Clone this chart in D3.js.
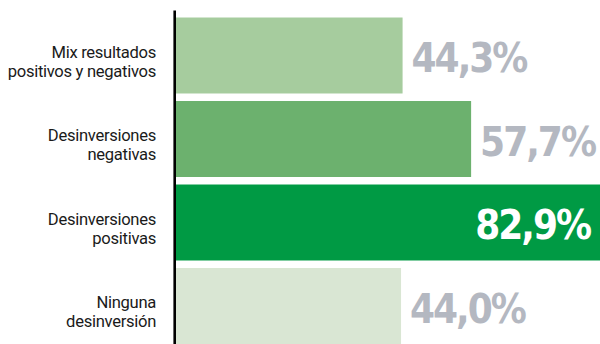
<!DOCTYPE html>
<html>
<head>
<meta charset="utf-8">
<script src="https://cdn.jsdelivr.net/npm/d3@7"></script>
<style>
  html, body { margin: 0; padding: 0; background: #fff; }
  svg { display: block; }
</style>
</head>
<body>
<svg id="chart" width="600" height="344"></svg>
<script>
const categories = ["Mix resultados|positivos y negativos", "Desinversiones|negativas", "Desinversiones|positivas", "Ninguna|desinversión"];
const values = [44.3, 57.7, 82.9, 44.0];
const valueLabels = ["44,3%", "57,7%", "82,9%", "44,0%"];
const barColors = ["#a6cc9e", "#6cb16e", "#009a44", "#d9e6d3"];

const svg = d3.select("#chart");
const W = 600, H = 344;
const x0 = 176;

const x = d3.scaleLinear().domain([0, 82.9]).range([x0, 600]);
const y = d3.scaleBand().domain(d3.range(categories.length))
  .range([13.75, 347.75]).paddingInner(0.09).paddingOuter(0.045);

// bars
svg.selectAll("rect.bar").data(values).join("rect")
  .attr("class", "bar")
  .attr("x", x(0))
  .attr("y", (d, i) => y(i))
  .attr("width", d => x(d) - x(0))
  .attr("height", y.bandwidth())
  .attr("fill", (d, i) => barColors[i]);

// axis line
svg.append("line")
  .attr("x1", 174.7).attr("x2", 174.7)
  .attr("y1", 10.5).attr("y2", H)
  .attr("stroke", "#000").attr("stroke-width", 2.6);

// category labels
const cat = svg.selectAll("text.cat").data(categories).join("text")
  .attr("class", "cat")
  .attr("text-anchor", "end")
  .attr("font-family", "Roboto, 'DejaVu Sans', sans-serif")
  .attr("font-size", 16.6)
  .attr("letter-spacing", -0.3)
  .attr("fill", "#1a1a1a");
cat.each(function(d, i) {
  const lines = d.split("|");
  const cy = y(i) + y.bandwidth() / 2;
  d3.select(this).selectAll("tspan").data(lines).join("tspan")
    .attr("x", 156)
    .attr("y", (l, j) => cy + 2 + j * 19)
    .text(l => l);
});

// value labels
svg.selectAll("text.val").data(values).join("text")
  .attr("class", "val")
  .attr("font-family", "'DejaVu Sans', sans-serif")
  .attr("font-stretch", "condensed")
  .attr("font-weight", "bold")
  .attr("font-size", 40)
  .attr("letter-spacing", -2)
  .attr("text-anchor", (d, i) => i === 2 ? "end" : "start")
  .attr("x", (d, i) => i === 2 ? 590 : x(d) + 9)
  .attr("y", (d, i) => y(i) + y.bandwidth() / 2 + 16.5)
  .attr("fill", (d, i) => i === 2 ? "#ffffff" : "#b4b8c1")
  .text((d, i) => valueLabels[i]);
</script>
</body>
</html>
